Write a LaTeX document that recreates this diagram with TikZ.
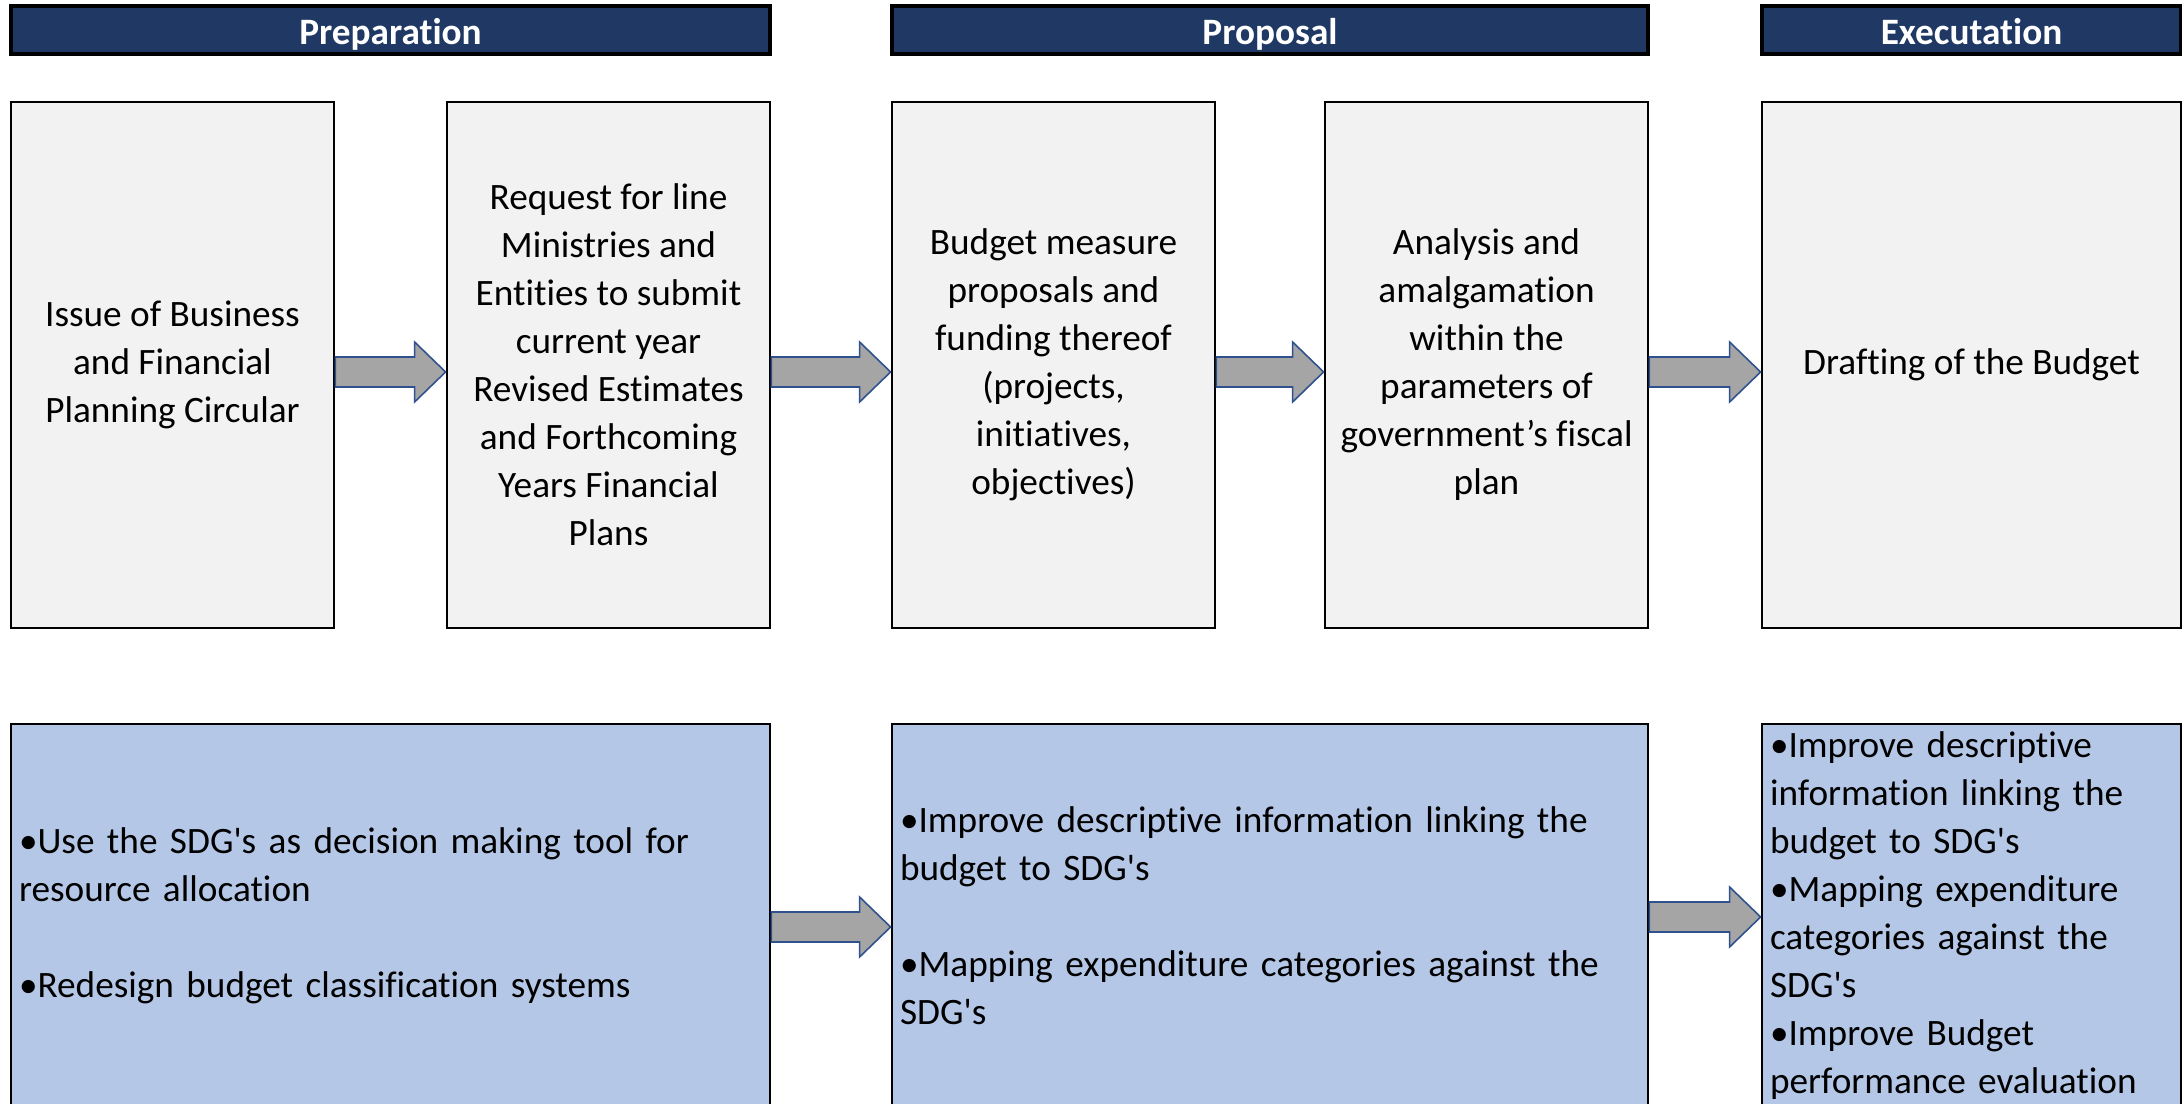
\documentclass[tikz,border=0pt]{standalone}
\usepackage{fontspec}
\setmainfont{Carlito}[Ligatures=TeX, RawFeature=-liga, RawFeature=-clig, RawFeature=-calt, RawFeature=-dlig]
\usepackage{xcolor}
\usepackage{tikz}
\usetikzlibrary{calc}

\definecolor{navy}{HTML}{1F3864}
\definecolor{boxgray}{HTML}{F2F2F2}
\definecolor{sdgblue}{HTML}{B4C7E7}
\definecolor{arrgray}{HTML}{A5A5A5}
\definecolor{arredge}{HTML}{2F528F}

% block arrow from the east side of #1 to the west side of #2, #3 = vertical shift
\newcommand{\blockarrow}[3]{%
  \path[barrow] let \p1=($(#1.east)+(0,#3)$), \p2=(#2.west) in
    (\x1,{\y1+0.15cm}) -- ({\x2-0.31cm},{\y1+0.15cm}) -- ({\x2-0.31cm},{\y1+0.30cm})
    -- (\x2,\y1) -- ({\x2-0.31cm},{\y1-0.30cm}) -- ({\x2-0.31cm},{\y1-0.15cm})
    -- (\x1,{\y1-0.15cm}) -- cycle;}

\begin{document}
\begin{tikzpicture}[
    txt/.style={font=\fontsize{10.6}{13.66}\selectfont},
    hdr/.style={txt, draw=black, line width=0.9pt, fill=navy, text=white,
      font=\fontsize{10.6}{13.66}\selectfont\bfseries, minimum height=0.48cm, inner sep=0pt,
      text height=8.4pt, text depth=0pt},
    stage/.style={txt, draw=black, line width=0.8pt, fill=boxgray, align=center,
      minimum width=3.23cm, minimum height=5.26cm, inner sep=0pt},
    goal/.style={txt, draw=black, line width=0.8pt, fill=sdgblue, align=left,
      minimum height=3.84cm, inner xsep=0.08cm, inner ysep=0pt},
    barrow/.style={draw=arredge, line width=0.45pt, fill=arrgray}]
  \useasboundingbox (0,0) rectangle (21.82,-11.04);

  % phase headers
  \node[hdr, minimum width=7.59cm] (prep) at (3.905,-0.30) {Preparation};
  \node[hdr, minimum width=7.56cm] (prop) at (12.70,-0.30) {Proposal};
  \node[hdr, minimum width=4.19cm] (exec) at (19.715,-0.30) {Executation};

  % process steps
  \node[stage] (circ) at (1.725,-3.65) {Issue of Business\\and Financial\\Planning Circular};
  \node[stage] (req) at (6.085,-3.65) {Request for line\\Ministries and\\Entities to submit\\current year\\Revised Estimates\\and Forthcoming\\Years Financial\\Plans};
  \node[stage] (meas) at (10.535,-3.65) {Budget measure\\proposals and\\funding thereof\\(projects,\\initiatives,\\objectives)};
  \node[stage] (anal) at (14.865,-3.65) {Analysis and\\amalgamation\\within the\\parameters of\\government’s fiscal\\plan};
  \node[stage, minimum width=4.19cm] (draft) at (19.715,-3.65) {Drafting of the Budget};

  % SDG actions
  \node[goal, text width=7.43cm] (useSDG) at (3.905,-9.16)
    {\textbullet Use the SDG\textquotesingle s as decision making tool for\\resource allocation\\[13.66pt]\textbullet Redesign budget classification systems};
  \node[goal, text width=7.40cm] (linkSDG) at (12.70,-9.16)
    {\textbullet Improve descriptive information linking the\\budget to SDG\textquotesingle s\\[13.66pt]\textbullet Mapping expenditure categories against the\\SDG\textquotesingle s};
  \node[goal, text width=4.03cm] (evalSDG) at (19.715,-9.16)
    {\textbullet Improve descriptive\\information linking the\\budget to SDG\textquotesingle s\\\textbullet Mapping expenditure\\categories against the\\SDG\textquotesingle s\\\textbullet Improve Budget\\performance evaluation};

  \blockarrow{circ}{req}{-0.07}
  \blockarrow{req}{meas}{-0.07}
  \blockarrow{meas}{anal}{-0.07}
  \blockarrow{anal}{draft}{-0.07}
  \blockarrow{useSDG}{linkSDG}{-0.11}
  \blockarrow{linkSDG}{evalSDG}{-0.01}
\end{tikzpicture}
\end{document}
